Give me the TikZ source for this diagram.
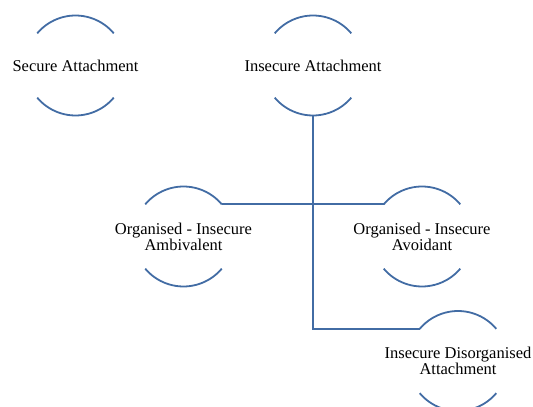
\documentclass[tikz,border=0pt]{standalone}
\usepackage{fontspec}
\setmainfont{Liberation Serif}
\begin{document}
\begin{tikzpicture}[x=1pt,y=1pt,
  ring/.style={inner sep=0pt,align=center,
    font=\fontsize{16.5}{15}\selectfont,text=black},
  arcline/.style={draw=lineblue,line width=1.8pt},
  link/.style={draw=lineblue,line width=1.8pt}]
\definecolor{lineblue}{RGB}{66,108,164}
\useasboundingbox (0,0) rectangle (533,407);

\node[ring] (sec) at (75.5,341.5) {Secure Attachment};
\node[ring] (ins) at (313,341.5) {Insecure Attachment};
\node[ring] (amb) at (183.5,170.5) {Organised - Insecure\\Ambivalent};
\node[ring] (avo) at (422,170.5) {Organised - Insecure\\Avoidant};
\node[ring] (dis) at (458,46) {Insecure Disorganised\\Attachment};

% each label sits in a circle of radius 50pt that shows only its upper and lower arcs
\foreach \n in {sec,ins,amb,avo,dis}{
  \coordinate (\n-ne) at ([shift={(40:50pt)}]\n.center);
  \coordinate (\n-nw) at ([shift={(140:50pt)}]\n.center);
  \coordinate (\n-sw) at ([shift={(220:50pt)}]\n.center);
  \coordinate (\n-s) at ([shift={(270:50pt)}]\n.center);
  \draw[arcline] (\n-ne) arc[start angle=40,end angle=140,radius=50pt];
  \draw[arcline] (\n-sw) arc[start angle=220,end angle=320,radius=50pt];
}

% connectors
\draw[link] (amb-ne) -- (avo-nw);
\draw[link] (ins-s) -- (ins-s |- dis-nw) -- (dis-nw);
\end{tikzpicture}
\end{document}
